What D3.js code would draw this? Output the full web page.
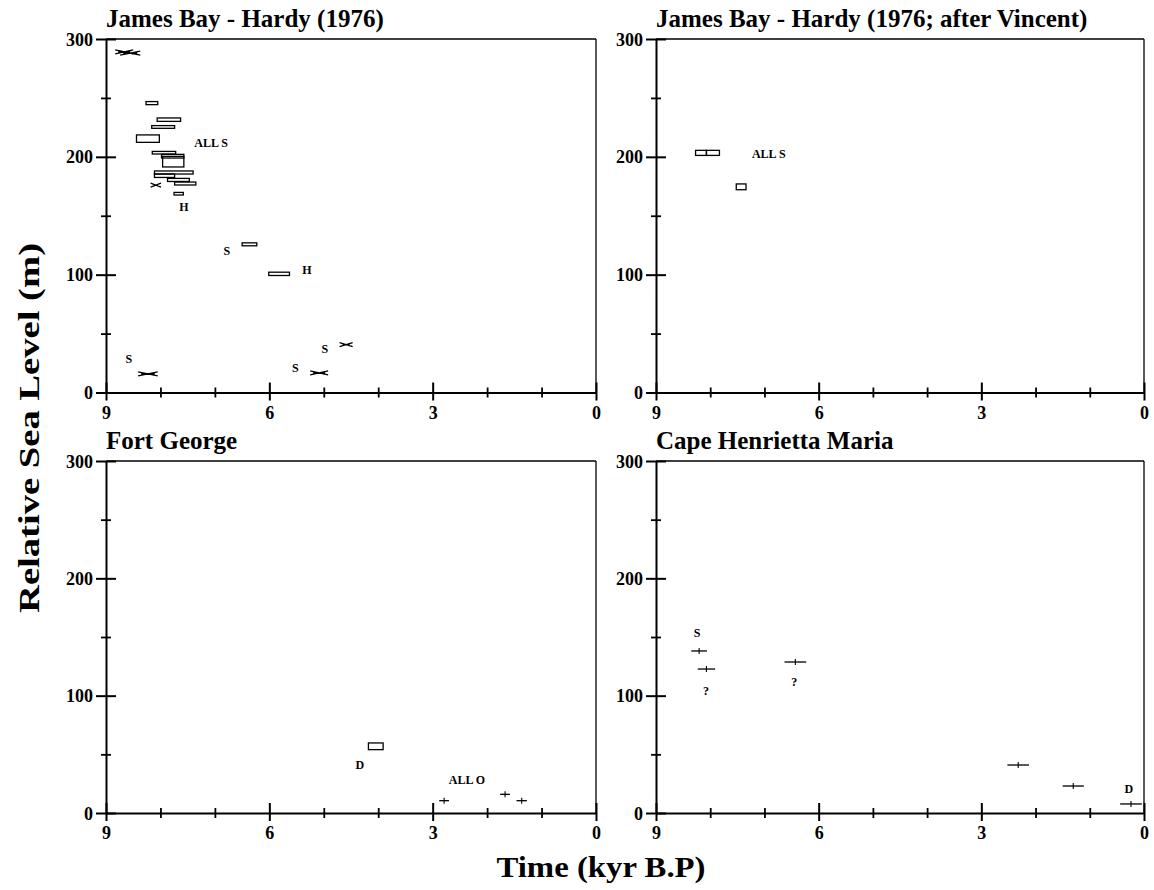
<!DOCTYPE html>
<html><head><meta charset="utf-8">
<script src="https://cdn.jsdelivr.net/npm/d3@7"></script>
<style>
html,body{margin:0;padding:0;background:#fff;}
svg{display:block;}
text{font-family:"Liberation Serif","Times New Roman",serif;font-weight:bold;fill:#000;}
</style></head>
<body>
<svg id="chart" width="1154" height="890"></svg>
<script>
// ---- tick values ----
const xTicksMajor = [9, 6, 3, 0];
const xTicksMinor = [8, 7, 5, 4, 2, 1];
const yTicksMajor = [0, 100, 200, 300];
const yTicksMinor = [50, 150, 250];

// ---- panel titles ----
const panelTitles = ["James Bay - Hardy (1976)", "James Bay - Hardy (1976; after Vincent)", "Fort George", "Cape Henrietta Maria"];

// ---- James Bay - Hardy (1976): boxes [ageOld, ageYoung, rslLow, rslHigh] ----
const hardyBoxes = [
  [8.265, 8.05, 244.3, 246.9],
  [8.06, 7.63, 230.1, 233.0],
  [8.16, 7.74, 224.2, 226.5],
  [8.44, 8.02, 212.3, 218.6],
  [8.15, 7.72, 202.4, 204.6],
  [7.98, 7.57, 199.0, 202.1],
  [7.96, 7.57, 191.4, 200.4],
  [8.11, 7.40, 185.4, 188.0],
  [8.11, 7.74, 182.5, 185.4],
  [7.87, 7.47, 179.1, 181.7],
  [7.74, 7.35, 176.1, 178.6],
  [7.75, 7.58, 167.6, 169.8],
  [6.50, 6.23, 124.5, 127.0],
  [6.01, 5.63, 99.3, 102.1]
];
// crossed (narrow) ranges [ageOld, ageYoung, rsl]
const hardyCrosses = [
  [8.83, 8.50, 289.0],
  [8.74, 8.37, 288.0],
  [8.18, 7.99, 176.0],
  [8.41, 8.05, 15.9],
  [5.25, 4.92, 16.7],
  [4.71, 4.47, 40.6]
];
const hardyLabels = [
  [7.07, 212.0, "ALL S"],
  [7.57, 157.6, "H"],
  [6.78, 120.3, "S"],
  [5.31, 104.1, "H"],
  [8.58, 28.5, "S"],
  [5.52, 20.8, "S"],
  [4.98, 37.0, "S"]
];

// ---- James Bay - Hardy (1976; after Vincent) ----
const vincentBoxes = [
  [8.27, 8.07, 201.2, 205.5],
  [8.07, 7.83, 201.2, 205.5],
  [7.52, 7.34, 172.1, 177.0]
];
const vincentLabels = [[6.92, 202.7, "ALL S"]];

// ---- Fort George ----
const fortBoxes = [[4.18, 3.91, 54.0, 59.7]];
const fortBars = [
  [2.88, 2.70, 10.5],
  [1.76, 1.58, 15.9],
  [1.46, 1.27, 10.5]
];
const fortLabels = [[4.34, 40.9, "D"], [2.37, 28.1, "ALL O"]];

// ---- Cape Henrietta Maria ----
const capeBars = [
  [8.35, 8.06, 138.1],
  [8.23, 7.91, 122.7],
  [6.63, 6.23, 128.7],
  [2.52, 2.12, 40.9],
  [1.50, 1.11, 23.0],
  [0.44, 0.04, 7.7]
];
const capeLabels = [[8.24, 153.4, "S"], [8.08, 104.0, "?"], [6.45, 111.6, "?"], [0.28, 20.5, "D"]];

// ---- layout ----
const svg = d3.select("#chart");
const frames = [
  {x0: 106, x1: 596, top: 39, bot: 392.5},
  {x0: 656, x1: 1144, top: 39, bot: 392.5},
  {x0: 106, x1: 596, top: 461, bot: 813},
  {x0: 656, x1: 1144, top: 461, bot: 813}
];
const panelData = [
  {boxes: hardyBoxes, crosses: hardyCrosses, bars: [], labels: hardyLabels},
  {boxes: vincentBoxes, crosses: [], bars: [], labels: vincentLabels},
  {boxes: fortBoxes, crosses: [], bars: fortBars, labels: fortLabels},
  {boxes: [], crosses: [], bars: capeBars, labels: capeLabels}
];

frames.forEach((f, i) => {
  const d = panelData[i];
  const g = svg.append("g");
  const x = d3.scaleLinear().domain([9, 0]).range([f.x0, f.x1]);
  const y = d3.scaleLinear().domain([0, 300]).range([f.bot, f.top]);

  // top and right frame lines
  g.append("line").attr("x1", f.x0).attr("x2", f.x1).attr("y1", f.top).attr("y2", f.top)
    .attr("stroke", "#000").attr("stroke-width", 1.3);
  g.append("line").attr("x1", f.x1).attr("x2", f.x1).attr("y1", f.top).attr("y2", f.bot)
    .attr("stroke", "#000").attr("stroke-width", 1.3);

  // x axis: minor ticks
  const axm = g.append("g").attr("transform", `translate(0,${f.bot})`)
    .call(d3.axisBottom(x).tickValues(xTicksMinor).tickSizeOuter(0).tickFormat(""));
  axm.select(".domain").remove();
  axm.selectAll(".tick line").attr("y1", -5).attr("y2", 5).attr("stroke-width", 1.8);
  // x axis: major
  const ax = g.append("g").attr("transform", `translate(0,${f.bot})`)
    .call(d3.axisBottom(x).tickValues(xTicksMajor).tickSizeOuter(0).tickFormat(d3.format("d")));
  ax.attr("font-family", null).attr("font-size", null);
  ax.select(".domain").attr("stroke-width", 2);
  ax.selectAll(".tick line").attr("y1", -10).attr("y2", 8).attr("stroke-width", 2);
  ax.selectAll(".tick text").attr("y", 26).attr("dy", null).style("font-size", "18px");

  // y axis: minor
  const aym = g.append("g").attr("transform", `translate(${f.x0},0)`)
    .call(d3.axisLeft(y).tickValues(yTicksMinor).tickSizeOuter(0).tickFormat(""));
  aym.select(".domain").remove();
  aym.selectAll(".tick line").attr("x1", -5).attr("x2", 5).attr("stroke-width", 1.8);
  // y axis: major
  const ay = g.append("g").attr("transform", `translate(${f.x0},0)`)
    .call(d3.axisLeft(y).tickValues(yTicksMajor).tickSizeOuter(0).tickFormat(d3.format("d")));
  ay.attr("font-family", null).attr("font-size", null);
  ay.select(".domain").attr("stroke-width", 2);
  ay.selectAll(".tick line").attr("x1", -10).attr("x2", 10).attr("stroke-width", 2);
  ay.selectAll(".tick text").attr("x", -13).attr("dy", "0.34em").style("font-size", "18px");

  // title
  g.append("text").attr("x", f.x0).attr("y", f.top - 12)
    .style("font-size", "25px").text(panelTitles[i]);

  // boxes
  g.selectAll(".box").data(d.boxes).enter().append("rect")
    .attr("x", b => x(b[0])).attr("width", b => x(b[1]) - x(b[0]))
    .attr("y", b => y(b[3])).attr("height", b => y(b[2]) - y(b[3]))
    .attr("fill", "none").attr("stroke", "#000").attr("stroke-width", 1.3);

  // crossed narrow ranges
  const ch = 2;
  const cg = g.selectAll(".cross").data(d.crosses).enter().append("g");
  cg.append("path")
    .attr("d", c => `M${x(c[0])},${y(c[2]) - ch}L${x(c[1])},${y(c[2]) + ch}M${x(c[0])},${y(c[2]) + ch}L${x(c[1])},${y(c[2]) - ch}M${x(c[0]) + 3},${y(c[2])}L${x(c[1]) - 3},${y(c[2])}`)
    .attr("fill", "none").attr("stroke", "#000").attr("stroke-width", 1.3);

  // error bars with centre tick
  const bg = g.selectAll(".bar").data(d.bars).enter().append("g");
  bg.append("line").attr("x1", b => x(b[0])).attr("x2", b => x(b[1]))
    .attr("y1", b => y(b[2])).attr("y2", b => y(b[2]))
    .attr("stroke", "#000").attr("stroke-width", 1.3);
  bg.append("line").attr("x1", b => x((b[0] + b[1]) / 2)).attr("x2", b => x((b[0] + b[1]) / 2))
    .attr("y1", b => y(b[2]) - 3).attr("y2", b => y(b[2]) + 3)
    .attr("stroke", "#000").attr("stroke-width", 1.1);

  // labels
  g.selectAll(".lab").data(d.labels).enter().append("text")
    .attr("x", l => x(l[0])).attr("y", l => y(l[1])).attr("dy", "0.35em")
    .attr("text-anchor", "middle").style("font-size", "12px").text(l => l[2]);
});

// axis titles
svg.append("text").attr("transform", "translate(39,428) rotate(-90)")
  .attr("text-anchor", "middle").style("font-size", "29px")
  .attr("textLength", 370).attr("lengthAdjust", "spacingAndGlyphs")
  .text("Relative Sea Level (m)");
svg.append("text").attr("x", 601).attr("y", 877)
  .attr("text-anchor", "middle").style("font-size", "29px")
  .attr("textLength", 209).attr("lengthAdjust", "spacingAndGlyphs")
  .text("Time (kyr B.P)");
</script>
</body></html>
